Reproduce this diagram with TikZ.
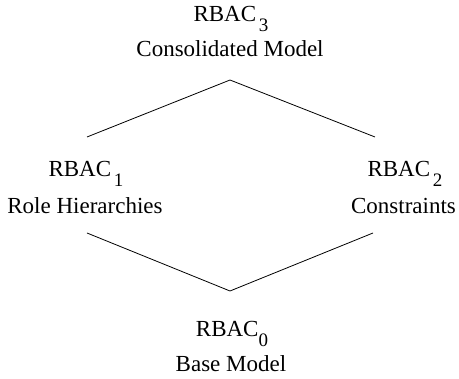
\documentclass[tikz,border=0pt]{standalone}
\usepackage{fontspec}
\setmainfont{Liberation Serif}
\newcommand{\rbacsub}[2][0.12em]{RBAC\kern#1\raisebox{-0.4em}{\fontsize{19}{19}\selectfont #2}}
\begin{document}
\begin{tikzpicture}[x=1pt,y=-1pt,
  lbl/.style={anchor=base,inner sep=0pt,font=\fontsize{23}{24}\selectfont},
  edge/.style={line width=0.8pt}]
\useasboundingbox (0,0) rectangle (459,379);
% top
\node[lbl] (r3) at (231,22) {\rbacsub{3}};
\node[lbl] (m3) at (230,57) {Consolidated Model};
% left
\node[lbl] (r1) at (86,177) {\rbacsub{1}};
\node[lbl] (m1) at (85,214) {Role Hierarchies};
% right
\node[lbl] (r2) at (405,177) {\rbacsub{2}};
\node[lbl] (m2) at (403.5,214) {Constraints};
% bottom
\node[lbl] (r0) at (232,337) {\rbacsub[0em]{0}};
\node[lbl] (m0) at (231,372) {Base Model};
% connectors
\coordinate (topapex) at (230,80);
\coordinate (tl) at (87,137);
\coordinate (tr) at (375,137);
\coordinate (bl) at (87,233);
\coordinate (bapex) at (230,291);
\coordinate (br) at (373,233);
\draw[edge] (tl) -- (topapex) -- (tr);
\draw[edge] (bl) -- (bapex) -- (br);
\end{tikzpicture}
\end{document}
